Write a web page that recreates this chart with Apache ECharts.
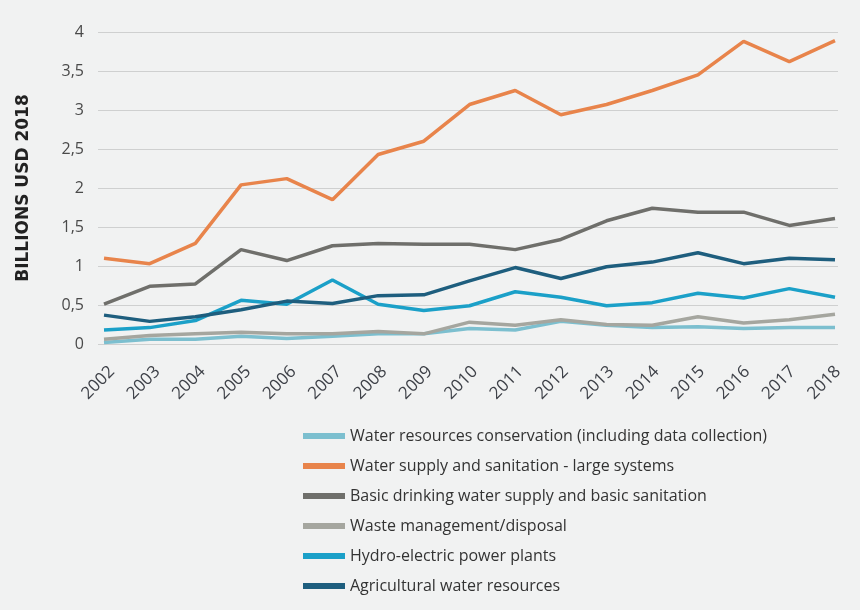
<!DOCTYPE html>
<html>
<head>
<meta charset="utf-8">
<script src="https://cdn.jsdelivr.net/npm/echarts@6/dist/echarts.min.js"></script>
<style>
  html, body { margin: 0; padding: 0; background: #f1f2f2; }
  #chart { width: 860px; height: 610px; }
</style>
</head>
<body>
<div id="chart"></div>
<script>
// years on the x axis
const years = ['2002', '2003', '2004', '2005', '2006', '2007', '2008', '2009', '2010',
  '2011', '2012', '2013', '2014', '2015', '2016', '2017', '2018']

// series values, billions USD 2018
const conservation = [0.02, 0.06, 0.06, 0.10, 0.07, 0.10, 0.13, 0.13, 0.20, 0.18, 0.29, 0.24, 0.21, 0.22, 0.20, 0.21, 0.21]
const largeSystems = [1.10, 1.03, 1.29, 2.04, 2.12, 1.85, 2.43, 2.60, 3.07, 3.25, 2.94, 3.07, 3.25, 3.45, 3.88, 3.62, 3.89]
const basicDrinking = [0.51, 0.74, 0.77, 1.21, 1.07, 1.26, 1.29, 1.28, 1.28, 1.21, 1.34, 1.58, 1.74, 1.69, 1.69, 1.52, 1.61]
const wasteMgmt = [0.06, 0.11, 0.13, 0.15, 0.13, 0.13, 0.16, 0.13, 0.28, 0.24, 0.31, 0.25, 0.24, 0.35, 0.27, 0.31, 0.38]
const hydro = [0.18, 0.21, 0.30, 0.56, 0.51, 0.82, 0.51, 0.43, 0.49, 0.67, 0.60, 0.49, 0.53, 0.65, 0.59, 0.71, 0.60]
const agricultural = [0.37, 0.29, 0.35, 0.44, 0.55, 0.52, 0.62, 0.63, 0.81, 0.98, 0.84, 0.99, 1.05, 1.17, 1.03, 1.10, 1.08]

const seriesDefs = [
  { name: 'Water resources conservation (including data collection)', data: conservation, color: '#7cbfcf' },
  { name: 'Water supply and sanitation - large systems', data: largeSystems, color: '#e8844b' },
  { name: 'Basic drinking water supply and basic sanitation', data: basicDrinking, color: '#6f6f6b' },
  { name: 'Waste management/disposal', data: wasteMgmt, color: '#a5a69f' },
  { name: 'Hydro-electric power plants', data: hydro, color: '#1ba0c8' },
  { name: 'Agricultural water resources', data: agricultural, color: '#1e5e7e' }
]

const font = '"Open Sans", "Noto Sans", sans-serif'

const chart = echarts.init(document.getElementById('chart'))

const option = {
  backgroundColor: '#f1f2f2',
  animation: false,
  textStyle: { fontFamily: font },
  // grid 0: the lines, grid 1: only the year labels, grid 2: only the horizontal gridlines
  // (the original's gridlines and labels are a little wider than the plotted points)
  grid: [
    { left: 104, right: 25, top: 32, bottom: 266 },
    { left: 112, right: 22, top: 32, bottom: 266 },
    { left: 98, right: 22, top: 32, bottom: 266 }
  ],
  legend: {
    orient: 'vertical',
    left: 298,
    top: 421,
    icon: 'rect',
    itemWidth: 42,
    itemHeight: 6,
    itemGap: 10,
    textStyle: { fontSize: 16, color: '#333', lineHeight: 20, fontFamily: font },
    data: seriesDefs.map(s => s.name)
  },
  xAxis: [
    {
      type: 'category',
      gridIndex: 0,
      data: years,
      boundaryGap: false,
      axisLine: { show: false },
      axisTick: { show: false },
      axisLabel: { show: false }
    },
    {
      type: 'category',
      gridIndex: 1,
      data: years,
      boundaryGap: false,
      axisLine: { show: false },
      axisTick: { show: false },
      splitLine: { show: false },
      axisLabel: { rotate: 45, fontSize: 17, color: '#3e4148', margin: 25, interval: 0 }
    },
    {
      type: 'category',
      gridIndex: 2,
      data: years,
      show: false
    }
  ],
  yAxis: [
    {
      type: 'value',
      gridIndex: 0,
      min: 0,
      max: 4,
      interval: 0.5,
      name: 'BILLIONS USD 2018',
      nameLocation: 'middle',
      nameRotate: 90,
      nameGap: 72,
      nameTextStyle: { fontSize: 17, fontWeight: 'bold', color: '#222', fontFamily: '"DejaVu Sans", sans-serif' },
      axisLine: { show: false },
      axisTick: { show: false },
      axisLabel: {
        fontSize: 16,
        color: '#4a4a4a',
        margin: 20,
        formatter: v => String(v).replace('.', ',')
      },
      splitLine: { show: false }
    },
    {
      type: 'value',
      gridIndex: 1,
      min: 0,
      max: 4,
      show: false,
      splitLine: { show: false }
    },
    {
      type: 'value',
      gridIndex: 2,
      min: 0,
      max: 4,
      interval: 0.5,
      axisLine: { show: false },
      axisTick: { show: false },
      axisLabel: { show: false },
      splitLine: { lineStyle: { color: '#cfd0d0', width: 1.2 } }
    }
  ],
  series: seriesDefs.map(s => ({
    name: s.name,
    type: 'line',
    xAxisIndex: 0,
    yAxisIndex: 0,
    data: s.data,
    symbol: 'none',
    color: s.color,
    lineStyle: { width: 3.5, color: s.color }
  }))
}

chart.setOption(option)
</script>
</body>
</html>
